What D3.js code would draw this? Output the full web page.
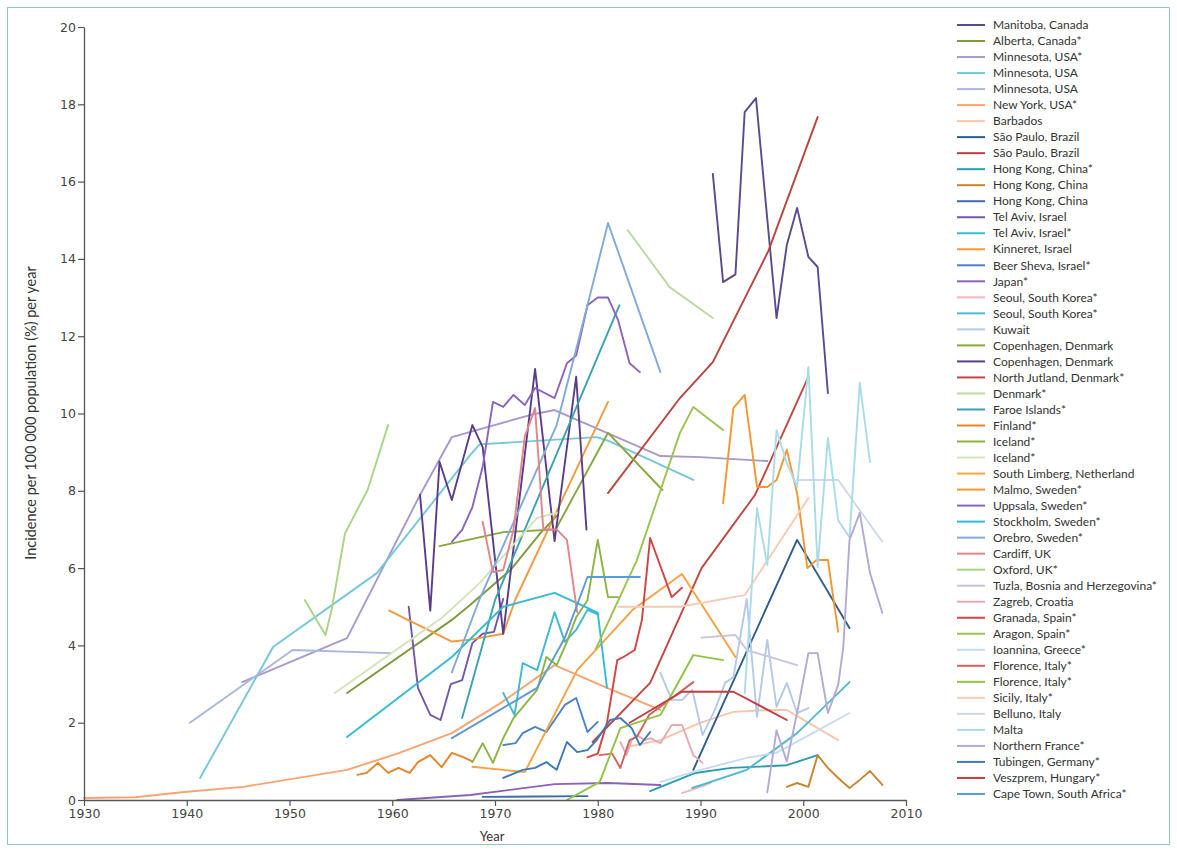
<!DOCTYPE html>
<html><head><meta charset="utf-8">
<script src="https://cdn.jsdelivr.net/npm/d3@7"></script>
<style>
body{margin:0;background:#fff}
svg{display:block}
</style>
</head><body>
<svg id="chart" width="1177" height="852"></svg>
<script>
// ---------- legend / categories ----------
const seriesNames = ["Manitoba, Canada","Alberta, Canada*","Minnesota, USA*","Minnesota, USA","Minnesota, USA","New York, USA*","Barbados","São Paulo, Brazil","São Paulo, Brazil","Hong Kong, China*","Hong Kong, China","Hong Kong, China","Tel Aviv, Israel","Tel Aviv, Israel*","Kinneret, Israel","Beer Sheva, Israel*","Japan*","Seoul, South Korea*","Seoul, South Korea*","Kuwait","Copenhagen, Denmark","Copenhagen, Denmark","North Jutland, Denmark*","Denmark*","Faroe Islands*","Finland*","Iceland*","Iceland*","South Limberg, Netherland","Malmo, Sweden*","Uppsala, Sweden*","Stockholm, Sweden*","Orebro, Sweden*","Cardiff, UK","Oxford, UK*","Tuzla, Bosnia and Herzegovina*","Zagreb, Croatia","Granada, Spain*","Aragon, Spain*","Ioannina, Greece*","Florence, Italy*","Florence, Italy*","Sicily, Italy*","Belluno, Italy","Malta","Northern France*","Tubingen, Germany*","Veszprem, Hungary*","Cape Town, South Africa*"];

const seriesColors = ["#5b4a8f","#7d9a3c","#a898cc","#74c7da","#a9b6df","#f9a46e","#fbc4a8","#2d5d8e","#b9443c","#2b9cab","#c8852f","#3b6cb2","#7458a8","#3cb9d4","#f29a3c","#4a82c9","#8a62bb","#f3b6bd","#4fb9d2","#b4c9ea","#86a83e","#5a3d8a","#c2453f","#bcd9a2","#3aa2b3","#e68428","#8cb443","#d2e4b8","#f6a240","#f7952f","#8b63c0","#32bad9","#82a9da","#e0868a","#aad384","#c9c3de","#e9a9b2","#d24343","#9bc352","#c4dcf2","#d26262","#93c244","#f9cab3","#ccd9ea","#a9dbe9","#b2aad3","#3b7aba","#c93a3a","#5b9ad2"];

// ---------- axis ticks ----------
const yearTicks = [1930,1940,1950,1960,1970,1980,1990,2000,2010];
const incidenceTicks = [0,2,4,6,8,10,12,14,16,18,20];

// ---------- series values: [year, incidence] ----------
const manitoba = [[1991.2,16.2],[1992.2,13.4],[1993.4,13.6],[1994.3,17.8],[1995.4,18.16],[1997.4,12.47],[1998.4,14.36],[1999.4,15.32],[2000.5,14.05],[2001.4,13.79],[2002.4,10.53]];
const alberta = [[1955.6,2.77],[1965.8,4.66],[1967.6,5.05],[1971.5,5.95],[1974.4,6.9],[1976,7.35]];
const minnesotaA = [[1945.4,3.05],[1955.6,4.19],[1962.7,7.89],[1965.8,9.39],[1973.4,9.96],[1975.8,10.09],[1980.9,9.5],[1986.1,8.9],[1990,8.87],[1996.5,8.77]];
const minnesotaB = [[1941.3,0.57],[1948.4,3.96],[1958.5,5.87],[1967.6,8.93],[1968.5,9.2],[1979.9,9.39],[1981,9.3],[1989.3,8.28]];
const minnesotaC = [[1940.3,2.0],[1950.3,3.88],[1959.8,3.8]];
const newYork = [[1930,0.05],[1935,0.07],[1939.5,0.2],[1945.5,0.34],[1955.6,0.78],[1960.5,1.2],[1965.8,1.73],[1970.5,2.5],[1975.8,3.49],[1980.9,2.9],[1986.1,2.33]];
const barbados = [[1982.8,1.37],[1986.1,1.55],[1990,2.0],[1993.2,2.28],[1996.8,2.33],[1998.4,2.33],[2003.4,1.55]];
const saoPauloA = [[1989.3,0.78],[1999.4,6.73],[2004.5,4.45]];
const saoPauloB = [[1981,7.94],[1988,10.4],[1991.2,11.33],[1996.6,14.2],[2001.4,17.67]];
const hongKongA = [[1985.1,0.23],[1989.5,0.7],[1993,0.83],[1998.4,0.9],[2001.4,1.16]];
const hongKongB = [[1998.4,0.34],[1999.4,0.44],[2000.5,0.34],[2001.4,1.16],[2002.4,0.83],[2003.4,0.57],[2004.5,0.31],[2005.5,0.52],[2006.5,0.75],[2007.7,0.39]];
const hongKongC = [[1968.8,0.08],[1974,0.09],[1979,0.1]];
const telAvivA = [[1961.6,5.0],[1962.5,2.9],[1963.7,2.2],[1964.7,2.07],[1965.7,3.0],[1966.8,3.1],[1967.8,4.06],[1968.8,4.3],[1969.9,4.35],[1970.8,5.2]];
const telAvivB = [[1970.8,2.77],[1971.9,2.2],[1972.7,3.54],[1974.1,3.36],[1975.8,4.86],[1976.8,4.09],[1977.9,4.4],[1979,4.92],[1980,4.8]];
const kinneret = [[1959.7,4.9],[1965.8,4.1],[1967.6,4.15],[1970.8,4.3],[1972,5.2],[1981,10.3]];
const beerSheva = [[1970.8,1.42],[1972,1.47],[1972.7,1.73],[1973.9,1.89],[1975,1.76],[1976.8,2.46],[1977.9,2.64],[1979,1.76],[1980,2.02]];
const japan = [[1960.5,0.0],[1967.6,0.13],[1975.8,0.41],[1981,0.44],[1986.1,0.39]];
const seoulA = [[1988.2,0.18],[1990,0.34],[1991,0.45]];
const seoulB = [[1989.2,0.31],[1994.5,0.78],[1999.4,1.73],[2004.5,3.05]];
const kuwait = [[1986.1,3.29],[1987.2,2.59],[1988.2,2.59],[1989.2,2.85],[1990.2,1.68],[1991.4,2.33],[1992.4,3.03],[1993.2,3.18],[1994.5,5.2],[1995.5,2.15],[1996.5,4.14],[1997.4,2.41],[1998.4,3.03],[1999.4,2.25],[2000.5,2.38]];
const copenhagenA = [[1964.6,6.57],[1970.8,6.93],[1975.9,7.0],[1981,9.5],[1986.3,8.02]];
const copenhagenB = [[1962.7,7.9],[1963.7,4.9],[1964.6,8.75],[1965.8,7.76],[1967.8,9.7],[1968.8,9.13],[1970.8,4.3],[1973.9,11.15],[1975.8,6.7],[1977.9,10.95],[1978.9,7.0]];
const northJutland = [[1979.5,1.5],[1985.1,3.03],[1990.1,6.0],[1995.3,7.89],[2000.5,10.95]];
const denmark = [[1982.9,14.75],[1987,13.27],[1991.2,12.47]];
const faroe = [[1966.8,2.12],[1970,5.17],[1982.1,12.8]];
const finland = [[1956.6,0.65],[1957.5,0.7],[1958.6,0.96],[1959.6,0.7],[1960.6,0.83],[1961.7,0.7],[1962.5,0.98],[1963.7,1.16],[1964.8,0.85],[1965.8,1.22],[1966.9,1.11],[1967.8,1.0]];
const icelandA = [[1967.8,0.98],[1968.8,1.47],[1969.8,0.96],[1970.8,1.6],[1971.8,2.12],[1972.7,2.4],[1974.1,2.85],[1975,3.7],[1976,3.49],[1977,4.09],[1977.9,4.73],[1979,5.17],[1980,6.73],[1981,5.25],[1982,5.25]];
const icelandB = [[1954.4,2.77],[1964.9,4.73],[1968.5,5.61],[1974.1,7.3],[1976,7.43]];
const southLimberg = [[1967.8,0.86],[1972.9,0.72],[1978,3.36],[1983.4,4.92],[1988.2,5.85],[1993.4,3.7]];
const malmo = [[1992.2,7.68],[1993.2,10.14],[1994.3,10.48],[1995.5,8.1],[1996.5,8.1],[1997.4,8.28],[1998.4,9.06],[1999.4,7.94],[2000.4,6.0],[2001.3,6.21],[2002.4,6.21],[2003.4,4.35]];
const uppsala = [[1965.8,6.68],[1966.8,6.99],[1967.8,7.58],[1968.8,8.62],[1969.8,10.3],[1970.8,10.17],[1971.8,10.48],[1972.9,10.22],[1973.9,10.66],[1975.8,10.4],[1977,11.3],[1977.9,11.5],[1979,12.8],[1980,13.0],[1981,13.0],[1982,12.4],[1983.1,11.3],[1984.1,11.07]];
const stockholm = [[1955.6,1.63],[1965.8,3.7],[1970.8,5.0],[1975.8,5.36],[1979,4.97],[1980,4.84],[1980.9,2.9]];
const orebro = [[1965.8,3.3],[1968.5,5.2],[1976,9.7],[1979,12.8],[1981,14.93],[1986.1,11.07]];
const cardiff = [[1968.8,7.2],[1969.8,5.9],[1970.8,5.95],[1971.8,7.0],[1972.9,9.4],[1973.9,10.14],[1974.7,7.0],[1976,7.0],[1977,6.73],[1978,4.86]];
const oxford = [[1951.5,5.17],[1953.5,4.27],[1954.1,4.92],[1955.4,6.9],[1957.6,8.02],[1959.6,9.7]];
const tuzla = [[1990.1,4.2],[1993.4,4.27],[1994.5,3.88],[1999.4,3.49]];
const zagreb = [[1982.2,1.5],[1982.8,1.16],[1983.3,1.55],[1983.8,1.68],[1984.6,1.55],[1985.1,1.6],[1986.1,1.47],[1987.2,1.94],[1988.2,1.94],[1989.3,1.16],[1990.2,0.96]];
const granada = [[1979,1.1],[1980,1.2],[1980.9,2.0],[1981.9,3.62],[1982.5,3.7],[1983.6,3.88],[1984.3,4.66],[1985.1,6.78],[1987.2,5.25],[1988.2,5.49]];
const aragon = [[1979.8,3.9],[1983.8,6.2],[1988,9.5],[1989.3,10.17],[1992.2,9.57]];
const ioannina = [[1986.1,0.47],[1990,0.78],[1994.5,1.09],[1997.4,1.22],[2004.5,2.25]];
const florenceA = [[1980.2,1.16],[1981.4,1.2],[1982.2,0.83],[1983.1,1.55],[1983.8,1.63],[1985,2.2],[1989.3,3.05]];
const florenceB = [[1977,0.0],[1980.2,0.47],[1982.2,1.86],[1986.1,2.2],[1989.3,3.75],[1992.2,3.62]];
const sicily = [[1982,5.0],[1988,5.0],[1994.3,5.3],[2000.5,7.81]];
const belluno = [[1999.4,8.28],[2003.4,8.28],[2007.7,6.68]];
const malta = [[1994.3,2.77],[1995.5,7.55],[1996.5,6.08],[1997.4,9.57],[1998.4,8.72],[1999.4,8.1],[2000.5,11.2],[2001.4,6.03],[2002.4,9.37],[2003.4,7.24],[2004.5,6.8],[2005.5,10.8],[2006.5,8.74]];
const northernFrance = [[1996.5,0.2],[1997.4,1.8],[1998.4,1.0],[1999.4,2.25],[2000.5,3.8],[2001.4,3.8],[2002.4,2.25],[2003.4,2.98],[2003.9,3.96],[2004.5,6.73],[2005.5,7.43],[2006.5,5.87],[2007.7,4.84]];
const tubingen = [[1970.8,0.57],[1972.7,0.78],[1973.9,0.83],[1975,0.98],[1976,0.78],[1977,1.5],[1978,1.24],[1979,1.29],[1979.9,1.55],[1981.2,2.07],[1982.2,2.12],[1983.3,1.86],[1984.1,1.42],[1985.1,1.76]];
const veszprem = [[1983.1,2.0],[1988.2,2.8],[1993.2,2.8],[1998.4,2.07]];
const capeTown = [[1965.8,1.6],[1974.1,2.9],[1976.8,4.2],[1979,5.77],[1984.1,5.77]];

const seriesValues = [manitoba,alberta,minnesotaA,minnesotaB,minnesotaC,newYork,barbados,saoPauloA,saoPauloB,hongKongA,hongKongB,hongKongC,telAvivA,telAvivB,kinneret,beerSheva,japan,seoulA,seoulB,kuwait,copenhagenA,copenhagenB,northJutland,denmark,faroe,finland,icelandA,icelandB,southLimberg,malmo,uppsala,stockholm,orebro,cardiff,oxford,tuzla,zagreb,granada,aragon,ioannina,florenceA,florenceB,sicily,belluno,malta,northernFrance,tubingen,veszprem,capeTown];

// ---------- drawing ----------
const svg = d3.select("#chart");
svg.append("rect").attr("x",7.5).attr("y",7.5).attr("width",1162).attr("height",837)
  .attr("fill","none").attr("stroke","#8cc9b8").attr("stroke-width",1);

const x = d3.scaleLinear().domain([1930,2010]).range([84,906]);
const y = d3.scaleLinear().domain([0,20]).range([800,27]);

const line = d3.line().x(d=>x(d[0])).y(d=>y(d[1]));

const plot = svg.append("g");
seriesValues.forEach((vals,i)=>{
  plot.append("path").datum(vals)
    .attr("d",line).attr("fill","none")
    .attr("stroke",seriesColors[i]).attr("stroke-width",1.9)
    .attr("stroke-linejoin","round").attr("stroke-linecap","round");
});

const yAxis = svg.append("g").attr("transform","translate(84,0)")
  .call(d3.axisLeft(y).tickValues(incidenceTicks).tickSize(6).tickSizeOuter(0).tickFormat(d3.format("d")));
const xAxis = svg.append("g").attr("transform","translate(0,800)")
  .call(d3.axisBottom(x).tickValues(yearTicks).tickSize(6).tickSizeOuter(0).tickFormat(d3.format("d")));
[yAxis,xAxis].forEach(g=>{
  g.select(".domain").attr("stroke","#555").attr("stroke-width",1.3);
  g.selectAll(".tick line").attr("stroke","#555").attr("stroke-width",1.2);
  g.selectAll(".tick text").attr("fill","#444").style("font-family","'DejaVu Sans', sans-serif").style("font-size","12.5px");
});
yAxis.selectAll(".tick text").attr("x",-8);
xAxis.selectAll(".tick text").attr("y",9);

svg.append("text").attr("x",492).attr("y",841).attr("text-anchor","middle")
  .style("font-family","Lato, sans-serif").style("font-size","13px").attr("fill","#333").text("Year");
svg.append("text").attr("transform","translate(36,413) rotate(-90)").attr("text-anchor","middle")
  .style("font-family","'Liberation Sans Narrow', Lato, sans-serif").style("font-size","14.5px").attr("fill","#333")
  .text("Incidence per 100 000 population (%) per year");

// legend
const lg = svg.append("g");
seriesNames.forEach((n,i)=>{
  const yy = 25 + i*16.02;
  lg.append("line").attr("x1",957).attr("x2",985).attr("y1",yy).attr("y2",yy)
    .attr("stroke",seriesColors[i]).attr("stroke-width",2);
  lg.append("text").attr("x",993).attr("y",yy).attr("dy","0.35em")
    .style("font-family","Lato, sans-serif").style("font-size","12px").attr("fill","#333").text(n);
});
</script>
</body></html>
